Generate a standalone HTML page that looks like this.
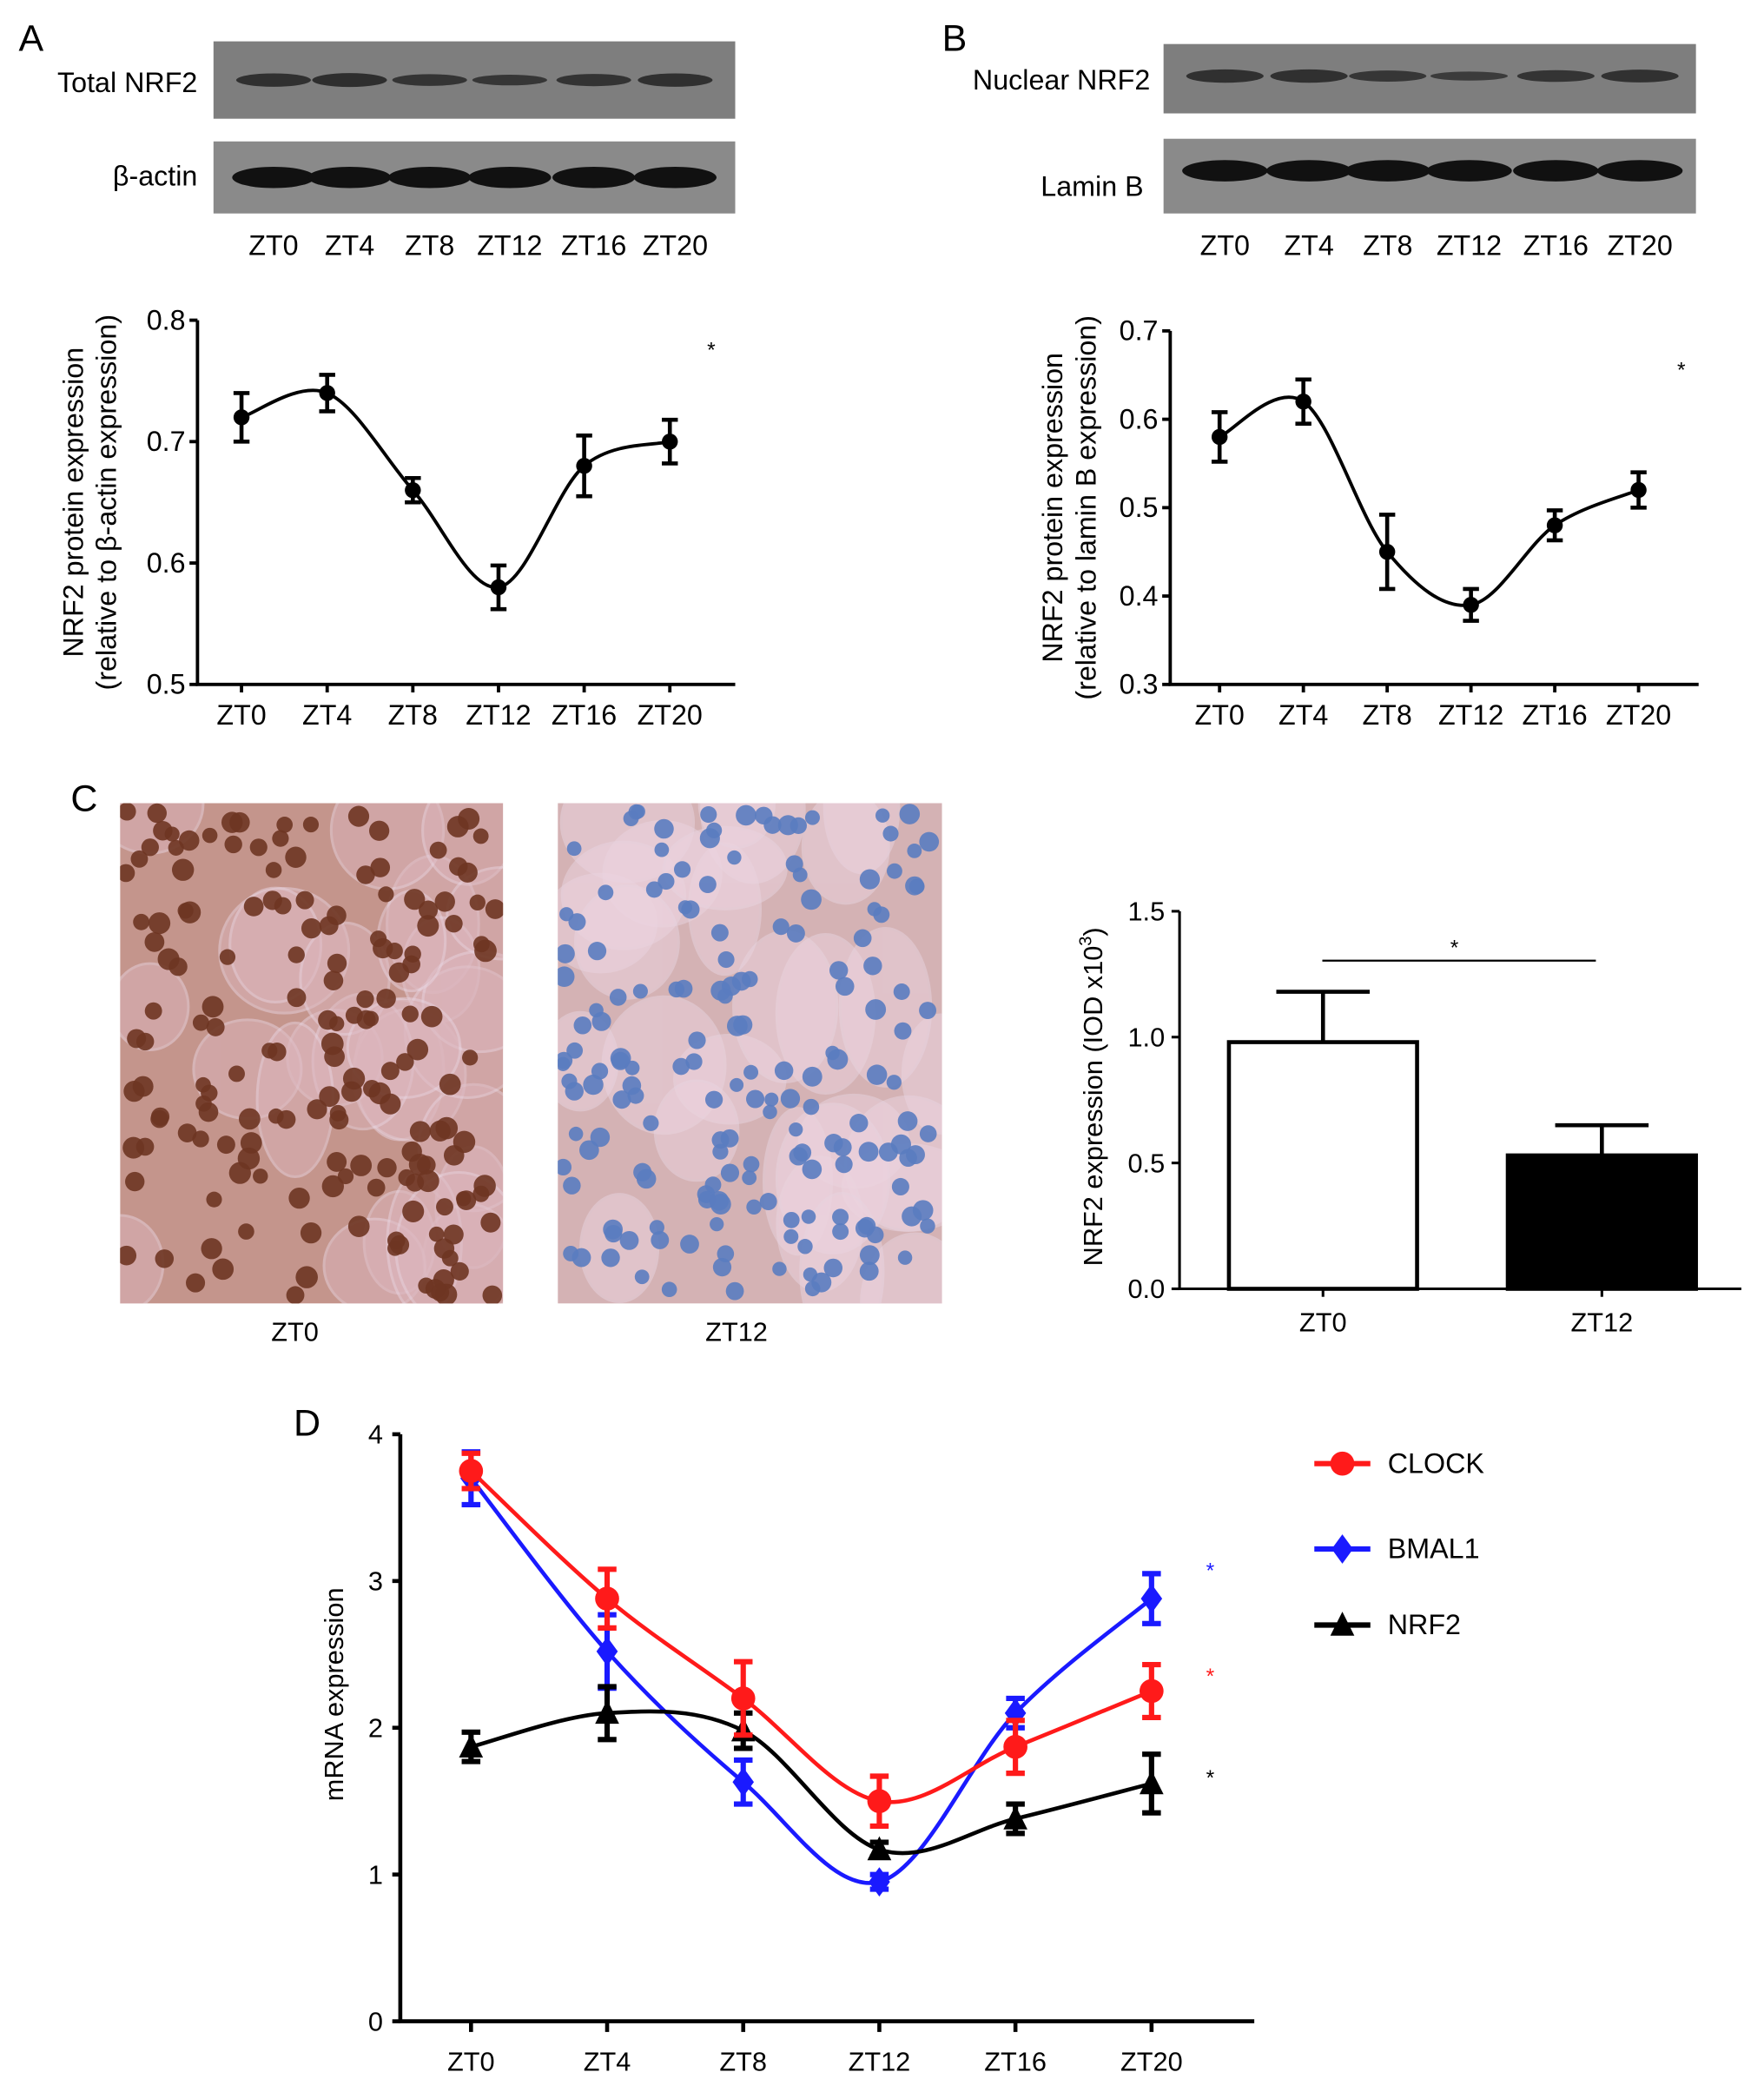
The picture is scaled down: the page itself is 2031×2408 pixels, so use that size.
<!DOCTYPE html>
<html><head><meta charset="utf-8"><style>
html,body{margin:0;padding:0;background:#fff;}
svg{display:block;font-family:"Liberation Sans",Arial,sans-serif;}
</style></head><body>
<svg id="fig" width="2031" height="2408" viewBox="0 0 1322 1568" preserveAspectRatio="none" xmlns="http://www.w3.org/2000/svg">
<defs>
<clipPath id="clip0"><rect x="90" y="602" width="287" height="375"/></clipPath>
<clipPath id="clip12"><rect x="418" y="602" width="288" height="375"/></clipPath>
</defs>
<rect width="1322" height="1568" fill="#fff"/>
<!-- Panel A -->
<text x="14" y="38" font-size="28">A</text>
<rect x="160" y="31" width="391" height="58" fill="#7e7e7e"/>
<rect x="160" y="106" width="391" height="54" fill="#8a8a8a"/>
<text x="148" y="69" font-size="21" text-anchor="end">Total NRF2</text>
<text x="148" y="139" font-size="21" text-anchor="end">β-actin</text>
<g id="blotA"></g>
<g id="laneA"></g>
<g id="chartA"></g>
<!-- Panel B -->
<text x="706" y="38" font-size="28">B</text>
<rect x="872" y="33" width="399" height="52" fill="#7e7e7e"/>
<rect x="872" y="104" width="399" height="56" fill="#8a8a8a"/>
<text x="862" y="67" font-size="21" text-anchor="end">Nuclear NRF2</text>
<text x="857" y="147" font-size="21" text-anchor="end">Lamin B</text>
<g id="blotB"></g>
<g id="laneB"></g>
<g id="chartB"></g>
<!-- Panel C -->
<text x="53" y="608" font-size="28">C</text>
<g id="tis0" clip-path="url(#clip0)"></g>
<g id="tis12" clip-path="url(#clip12)"></g>
<text x="221" y="1005" font-size="20" text-anchor="middle">ZT0</text>
<text x="552" y="1005" font-size="20" text-anchor="middle">ZT12</text>
<g id="chartC"></g>
<!-- Panel D -->
<text x="220" y="1076" font-size="28">D</text>
<g id="chartD"></g>
</svg>
<script>
// ---------- data ----------
const zt = ["ZT0","ZT4","ZT8","ZT12","ZT16","ZT20"];
const aVals = [0.72,0.74,0.66,0.58,0.68,0.70];
const aErr = [0.02,0.015,0.01,0.018,0.025,0.018];
const aTicks = [0.5,0.6,0.7,0.8];
const bVals = [0.58,0.62,0.45,0.39,0.48,0.52];
const bErr = [0.028,0.025,0.042,0.018,0.017,0.02];
const bTicks = [0.3,0.4,0.5,0.6,0.7];
const cCats = ["ZT0","ZT12"];
const cVals = [0.98,0.53];
const cErr = [0.2,0.12];
const cTicks = [0.0,0.5,1.0,1.5];
const clockVals = [3.75,2.88,2.2,1.5,1.87,2.25];
const clockErr = [0.12,0.2,0.25,0.17,0.18,0.18];
const bmalVals = [3.7,2.52,1.63,0.95,2.1,2.88];
const bmalErr = [0.18,0.25,0.15,0.05,0.1,0.17];
const nrf2Vals = [1.87,2.1,1.98,1.17,1.38,1.62];
const nrf2Err = [0.1,0.18,0.12,0.05,0.1,0.2];
const dTicks = [0,1,2,3,4];
const blotAtop = [1.0,1.05,0.85,0.75,0.9,1.0];
const blotBtop = [1.0,1.0,0.8,0.6,0.85,0.95];

const NS="http://www.w3.org/2000/svg";
function mk(tag,attrs,parent){const e=document.createElementNS(NS,tag);for(const k in attrs)e.setAttribute(k,attrs[k]);parent.appendChild(e);return e;}
function lin(d0,d1,r0,r1){return v=>r0+(v-d0)/(d1-d0)*(r1-r0);}
function smooth(pts){let d="M"+pts[0][0]+","+pts[0][1];for(let i=0;i<pts.length-1;i++){const p0=pts[i-1]||pts[i],p1=pts[i],p2=pts[i+1],p3=pts[i+2]||p2;const c1=[p1[0]+(p2[0]-p0[0])/6,p1[1]+(p2[1]-p0[1])/6],c2=[p2[0]-(p3[0]-p1[0])/6,p2[1]-(p3[1]-p1[1])/6];d+=" C"+c1+" "+c2+" "+p2;}return d;}

// ---------- blots ----------
function blot(g,lanesX,y1,y2,strength,w){
  lanesX.forEach((x,i)=>{
    const e1=mk('ellipse',{cx:x,cy:y1,rx:w,ry:4*strength[i]+1,fill:'#222',opacity:0.55+0.3*strength[i]},g);
    
    
    const e2=mk('ellipse',{cx:x,cy:y2,rx:w+3,ry:8,fill:'#111'},g);
    
    
  });
}
const lanesA=[205,262,322,382,445,506];
blot(document.getElementById('blotA'),lanesA,60,133,blotAtop,28);
const lanesB=[918,981,1040,1101,1166,1229];
blot(document.getElementById('blotB'),lanesB,57,128,blotBtop,29);
function laneLabels(g,xs){zt.forEach((t,i)=>{const e=mk('text',{x:xs[i],y:191,'font-size':21,'text-anchor':'middle'},g);e.textContent=t;});}
laneLabels(document.getElementById('laneA'),lanesA);
laneLabels(document.getElementById('laneB'),lanesB);

// ---------- line charts A/B ----------
function lineChart(g,o){
  const y=lin(o.ymin,o.ymax,o.y0,o.y1);
  const x=i=>o.x0+i*o.step;
  const ax=mk('path',{d:`M${o.ax},${o.y1} V${o.y0} H${o.axr}`,stroke:'#000','stroke-width':2.5,fill:'none'},g);
  
  o.ticks.forEach(t=>{
    mk('line',{x1:o.ax-6,x2:o.ax,y1:y(t),y2:y(t),stroke:'#000','stroke-width':2.5},g);
    const tl=mk('text',{x:o.ax-9,y:y(t)+7,'font-size':21,'text-anchor':'end'},g);tl.textContent=t.toFixed(1);
    
  });
  zt.forEach((t,i)=>{
    mk('line',{x1:x(i),x2:x(i),y1:o.y0,y2:o.y0+6,stroke:'#000','stroke-width':2.5},g);
    const tl=mk('text',{x:x(i),y:o.y0+30,'font-size':21,'text-anchor':'middle'},g);tl.textContent=t;
    
  });
  const pts=o.vals.map((v,i)=>[x(i),y(v)]);
  const c=mk('path',{d:smooth(pts),stroke:'#000','stroke-width':2.5,fill:'none'},g);
  
  o.vals.forEach((v,i)=>{
    const e=o.err[i];
    const eb=mk('path',{d:`M${x(i)},${y(v+e)} V${y(v-e)} M${x(i)-6},${y(v+e)} h12 M${x(i)-6},${y(v-e)} h12`,stroke:'#000','stroke-width':3,fill:'none'},g);
    
    const p=mk('circle',{cx:x(i),cy:y(v),r:6,fill:'#000'},g);
    
  });
  const s=mk('text',{x:o.star[0],y:o.star[1],'font-size':16,'text-anchor':'middle'},g);s.textContent='*';
  
  o.title.forEach((t,k)=>{
    const tt=mk('text',{x:0,y:0,'font-size':21,'text-anchor':'middle',transform:`translate(${o.tx+k*25},${(o.y0+o.y1)/2}) rotate(-90)`},g);tt.textContent=t;
    
  });
}
lineChart(document.getElementById('chartA'),{ymin:0.5,ymax:0.8,y0:513,y1:240,ax:148,axr:551,x0:181,step:64.2,vals:aVals,err:aErr,ticks:aTicks,star:[533,268],title:["NRF2 protein expression","(relative to β-actin expression)"],tx:62});
lineChart(document.getElementById('chartB'),{ymin:0.3,ymax:0.7,y0:513,y1:248,ax:877,axr:1273,x0:914,step:62.8,vals:bVals,err:bErr,ticks:bTicks,star:[1260,283],title:["NRF2 protein expression","(relative to lamin B expression)"],tx:796});

// ---------- tissue images ----------
let seed=7;function rnd(){seed=(seed*16807)%2147483647;return seed/2147483647;}
function tissue(g,x0,y0,w,h,bg,cell,nuc,nucR,n){
  const r=mk('rect',{x:x0,y:y0,width:w,height:h,fill:bg},g);
  
  for(let i=0;i<28;i++){
    const e=mk('ellipse',{cx:x0+rnd()*w,cy:y0+rnd()*h,rx:25+rnd()*25,ry:30+rnd()*30,fill:cell,opacity:0.5,stroke:'#e8d4e0','stroke-width':2},g);
    
  }
  for(let i=0;i<n;i++){
    const c=mk('circle',{cx:x0+4+rnd()*(w-8),cy:y0+4+rnd()*(h-8),r:nucR*(0.8+rnd()*0.4),fill:nuc,opacity:0.9},g);
    
  }
}
tissue(document.getElementById('tis0'),90,602,287,375,'#c4958c','#dcb6bd','#6e3522',7,170);
tissue(document.getElementById('tis12'),418,602,288,375,'#d4b2b4','#ecd3df','#5a7cc0',6.5,170);

// ---------- bar chart C ----------
(function(){
  const g=document.getElementById('chartC');
  const y=lin(0,1.5,966,683);
  const bx=[921,1130], bw=141;
  const ax=mk('path',{d:`M884,${y(1.5)} V966 H1305`,stroke:'#000','stroke-width':2,fill:'none'},g);
  
  cTicks.forEach(t=>{
    mk('line',{x1:878,x2:884,y1:y(t),y2:y(t),stroke:'#000','stroke-width':2},g);
    const tl=mk('text',{x:873,y:y(t)+7,'font-size':20,'text-anchor':'end'},g);tl.textContent=t.toFixed(1);
    
  });
  cCats.forEach((c,i)=>{
    const v=cVals[i],e=cErr[i],cx=bx[i]+bw/2;
    const eb=mk('path',{d:`M${cx},${y(v)} V${y(v+e)} M${cx-35},${y(v+e)} h70`,stroke:'#000','stroke-width':3,fill:'none'},g);
    
    const b=mk('rect',{x:bx[i],y:y(v),width:bw,height:966-y(v),fill:i?'#000':'#fff',stroke:'#000','stroke-width':3},g);
    
    mk('line',{x1:cx,x2:cx,y1:966,y2:972,stroke:'#000','stroke-width':2},g);
    const tl=mk('text',{x:cx,y:998,'font-size':20,'text-anchor':'middle'},g);tl.textContent=c;
    
  });
  const sl=mk('line',{x1:991,x2:1196,y1:720,y2:720,stroke:'#000','stroke-width':1.5},g);
  
  const s=mk('text',{x:1090,y:716,'font-size':16,'text-anchor':'middle'},g);s.textContent='*';
  
  const tt=mk('text',{x:0,y:0,'font-size':20,'text-anchor':'middle',transform:'translate(826,822) rotate(-90)'},g);
  tt.innerHTML='NRF2 expression (IOD x10<tspan dy="-8" font-size="13">3</tspan><tspan dy="8">)</tspan>';
  
})();

// ---------- chart D ----------
(function(){
  const g=document.getElementById('chartD');
  const y=lin(0,4,1515,1075);
  const x=i=>353+i*102;
  const ax=mk('path',{d:`M300,${y(4)} V1515 H940`,stroke:'#000','stroke-width':3,fill:'none'},g);
  
  dTicks.forEach(t=>{
    mk('line',{x1:294,x2:300,y1:y(t),y2:y(t),stroke:'#000','stroke-width':3},g);
    const tl=mk('text',{x:287,y:y(t)+7,'font-size':20,'text-anchor':'end'},g);tl.textContent=t;
    
  });
  zt.forEach((t,i)=>{
    mk('line',{x1:x(i),x2:x(i),y1:1515,y2:1523,stroke:'#000','stroke-width':3},g);
    const tl=mk('text',{x:x(i),y:1552,'font-size':20,'text-anchor':'middle'},g);tl.textContent=t;
    
  });
  const tt=mk('text',{x:0,y:0,'font-size':20,'text-anchor':'middle',transform:'translate(257,1270) rotate(-90)'},g);tt.textContent='mRNA expression';
  
  function marker(kind,cx,cy,col){
    let m;
    if(kind==='c') m=mk('circle',{cx:cx,cy:cy,r:9,fill:col},g);
    else if(kind==='d') m=mk('path',{d:`M${cx},${cy-11} L${cx+8},${cy} L${cx},${cy+11} L${cx-8},${cy} Z`,fill:col},g);
    else m=mk('path',{d:`M${cx},${cy-10} L${cx+9},${cy+8} L${cx-9},${cy+8} Z`,fill:col},g);
    
  }
  const series=[[bmalVals,bmalErr,'#1a1aff','d','bmal1'],[nrf2Vals,nrf2Err,'#000','t','nrf2'],[clockVals,clockErr,'#ff1a1a','c','clock']];
  series.forEach(s=>{
    const [vals,err,col,kind,nm]=s;
    const pts=vals.map((v,i)=>[x(i),y(v)]);
    const c=mk('path',{d:smooth(pts),stroke:col,'stroke-width':3,fill:'none'},g);
    
    vals.forEach((v,i)=>{
      const e=err[i];
      const eb=mk('path',{d:`M${x(i)},${y(v+e)} V${y(v-e)} M${x(i)-7},${y(v+e)} h14 M${x(i)-7},${y(v-e)} h14`,stroke:col,'stroke-width':4,fill:'none'},g);
      
      marker(kind,x(i),y(v),col);
    });
  });
  const leg=[['CLOCK','#ff1a1a','c',1097],['BMAL1','#1a1aff','d',1161],['NRF2','#000','t',1218]];
  leg.forEach(l=>{
    const ln=mk('line',{x1:985,x2:1027,y1:l[3],y2:l[3],stroke:l[1],'stroke-width':4},g);
    
    marker(l[2],1006,l[3],l[1]);
    const t=mk('text',{x:1040,y:l[3]+7,'font-size':21},g);t.textContent=l[0];
    
  });
  [['#1a1aff',1183],['#ff1a1a',1262],['#000',1338]].forEach(s=>{
    const t=mk('text',{x:907,y:s[1],'font-size':16,'text-anchor':'middle',fill:s[0]},g);t.textContent='*';
    
  });
})();
</script>
</body></html>
